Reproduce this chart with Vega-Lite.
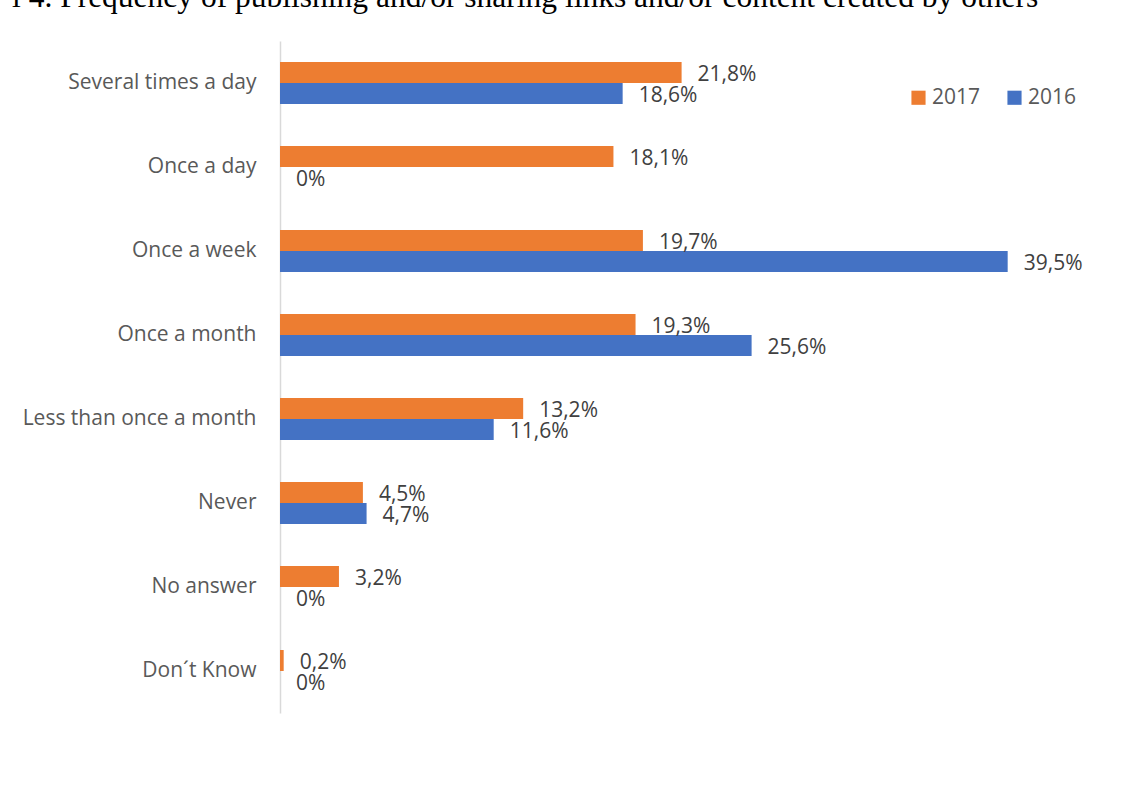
{
  "$schema": "https://vega.github.io/schema/vega-lite/v6.json",
  "width": 829,
  "height": 672,
  "autosize": "none",
  "padding": {"left": 280, "top": 41, "right": 18, "bottom": 83},
  "background": "white",
  "config": {"view": {"stroke": null}},
  "title": {
    "text": "l 4. Frequency of publishing and/or sharing links and/or content created by others",
    "anchor": "start",
    "frame": "group",
    "dx": -268,
    "font": "Liberation Serif",
    "fontSize": 31.5,
    "fontWeight": "normal",
    "color": "black",
    "baseline": "alphabetic",
    "offset": 3
  },
  "data": {
    "values": [
      {"category": "Several times a day", "year": "2017", "value": 21.8, "label": "21,8%"},
      {"category": "Several times a day", "year": "2016", "value": 18.6, "label": "18,6%"},
      {"category": "Once a day", "year": "2017", "value": 18.1, "label": "18,1%"},
      {"category": "Once a day", "year": "2016", "value": 0, "label": "0%"},
      {"category": "Once a week", "year": "2017", "value": 19.7, "label": "19,7%"},
      {"category": "Once a week", "year": "2016", "value": 39.5, "label": "39,5%"},
      {"category": "Once a month", "year": "2017", "value": 19.3, "label": "19,3%"},
      {"category": "Once a month", "year": "2016", "value": 25.6, "label": "25,6%"},
      {"category": "Less than once a month", "year": "2017", "value": 13.2, "label": "13,2%"},
      {"category": "Less than once a month", "year": "2016", "value": 11.6, "label": "11,6%"},
      {"category": "Never", "year": "2017", "value": 4.5, "label": "4,5%"},
      {"category": "Never", "year": "2016", "value": 4.7, "label": "4,7%"},
      {"category": "No answer", "year": "2017", "value": 3.2, "label": "3,2%"},
      {"category": "No answer", "year": "2016", "value": 0, "label": "0%"},
      {"category": "Don´t Know", "year": "2017", "value": 0.2, "label": "0,2%"},
      {"category": "Don´t Know", "year": "2016", "value": 0, "label": "0%"}
    ]
  },
  "encoding": {
    "y": {
      "field": "category",
      "type": "nominal",
      "sort": ["Several times a day", "Once a day", "Once a week", "Once a month", "Less than once a month", "Never", "No answer", "Don´t Know"],
      "scale": {"paddingInner": 0.5, "paddingOuter": 0.25},
      "axis": {
        "title": null,
        "domainColor": "#d9d9d9",
        "domainWidth": 1.5,
        "ticks": false,
        "grid": false,
        "labelFont": "Open Sans",
        "labelFontSize": 21,
        "labelColor": "#595959",
        "labelPadding": 24,
        "labelLimit": 400
      }
    },
    "yOffset": {"field": "year", "type": "nominal", "sort": ["2017", "2016"], "scale": {"paddingInner": 0}},
    "x": {"field": "value", "type": "quantitative", "scale": {"domain": [0, 45]}, "axis": null}
  },
  "layer": [
    {
      "mark": {"type": "bar"},
      "encoding": {
        "color": {
          "field": "year",
          "type": "nominal",
          "scale": {"domain": ["2017", "2016"], "range": ["#ED7D31", "#4472C4"]},
          "legend": {
            "title": null,
            "orient": "none",
            "legendX": 628,
            "legendY": 46,
            "direction": "horizontal",
            "symbolType": "square",
            "symbolSize": 200,
            "symbolStrokeWidth": 0,
            "labelFont": "Open Sans",
            "labelFontSize": 21,
            "labelColor": "#595959",
            "columnPadding": 23,
            "labelOffset": 3
          }
        }
      }
    },
    {
      "mark": {"type": "text", "align": "left", "baseline": "middle", "dx": 16, "dy": 2, "font": "Open Sans", "fontSize": 21, "color": "#404040"},
      "encoding": {"text": {"field": "label"}}
    }
  ]
}
